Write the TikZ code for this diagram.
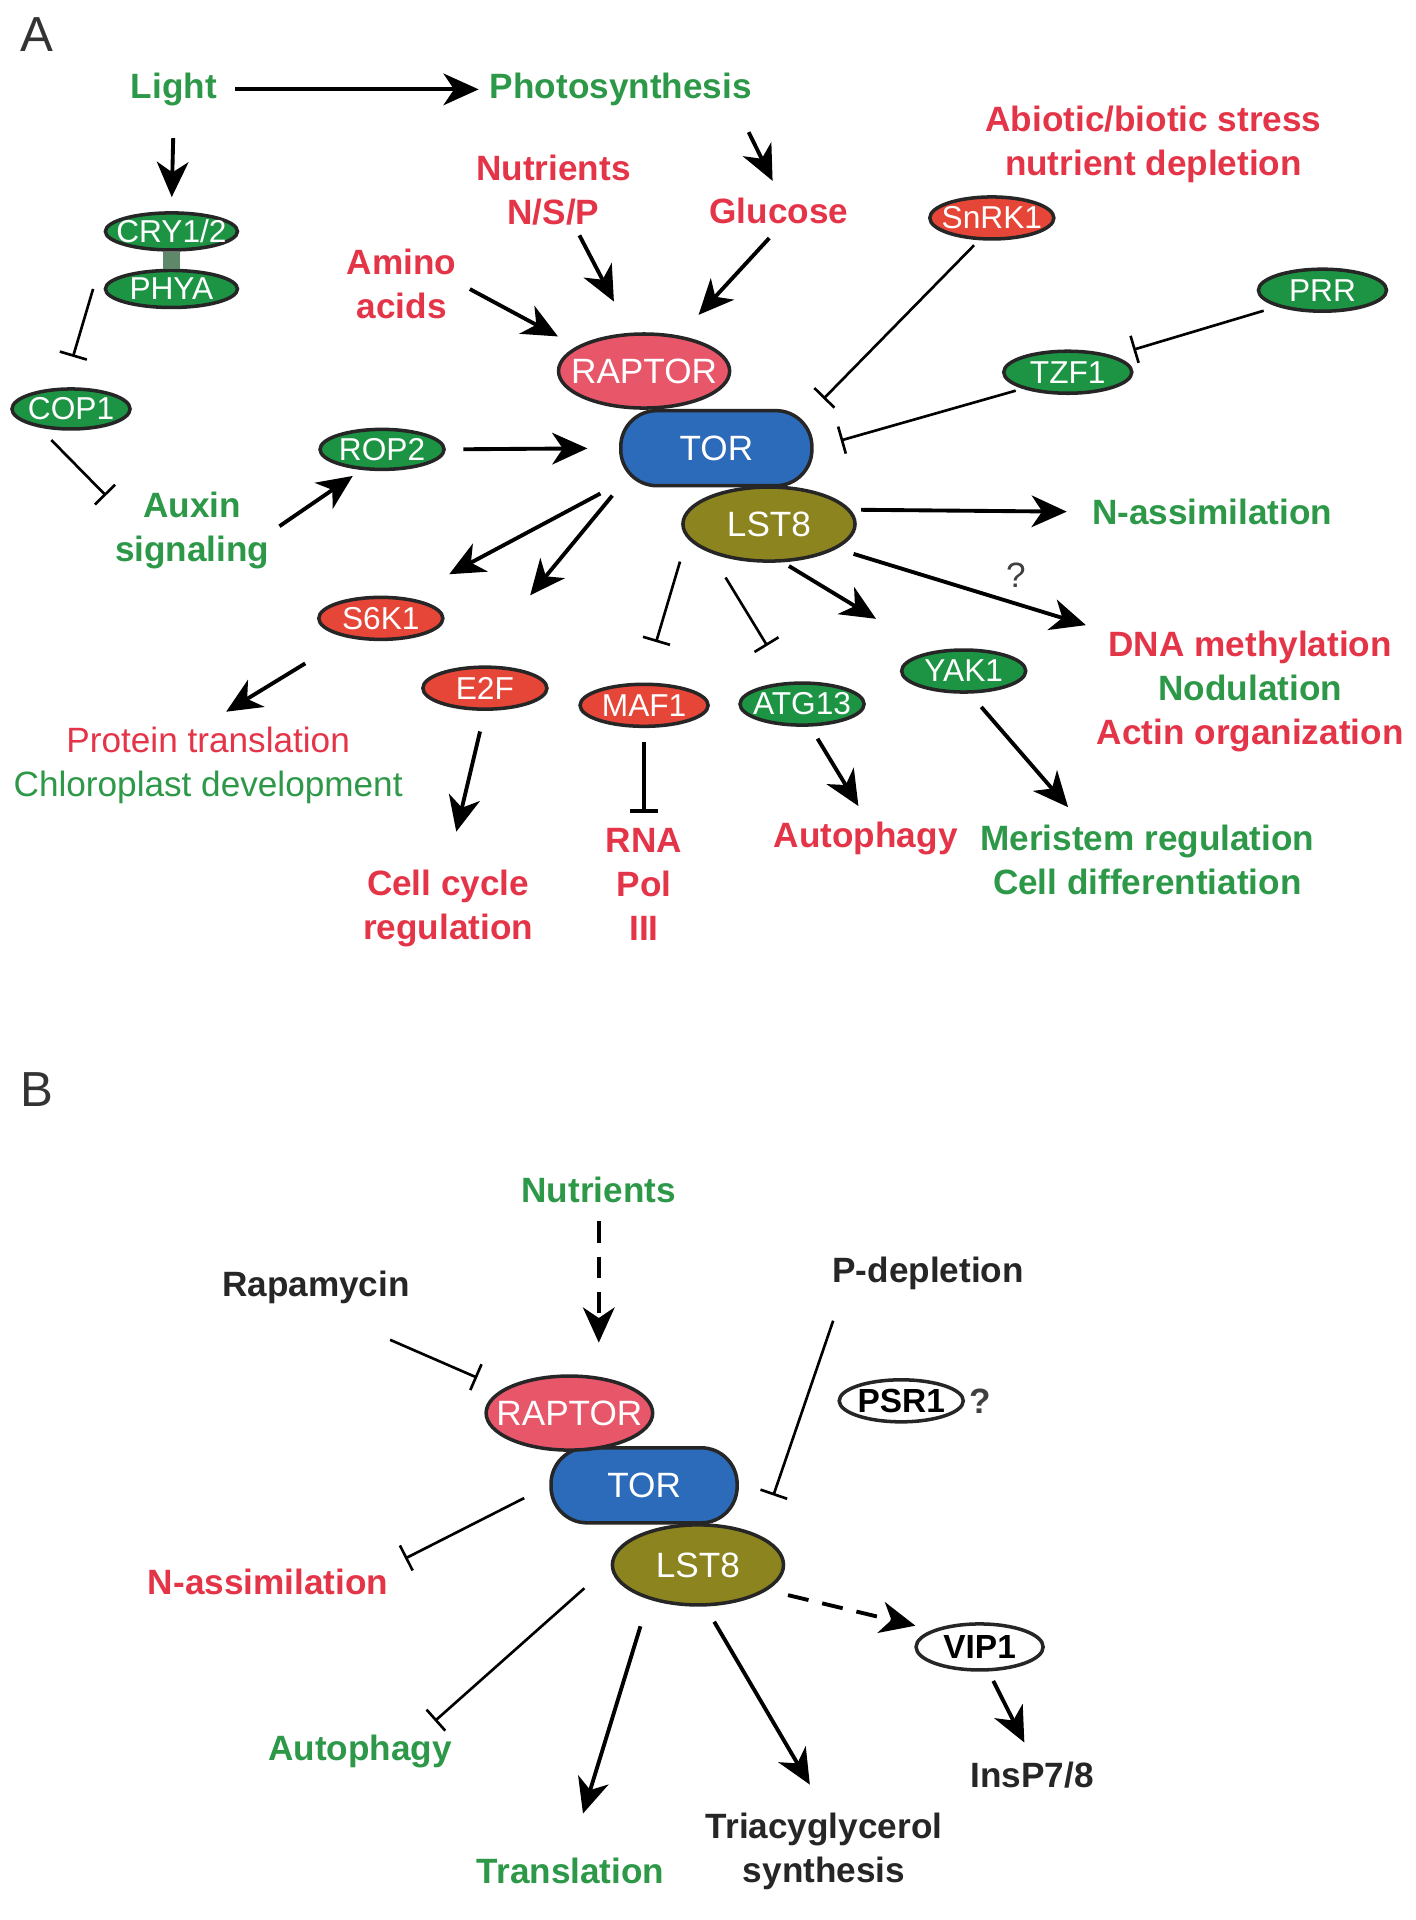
\documentclass[tikz,border=0pt]{standalone}
\usepackage{fontspec}
\setmainfont{Liberation Sans}
\usetikzlibrary{shapes.geometric,arrows.meta}

\definecolor{txtred}{RGB}{228,52,72}
\definecolor{txtgreen}{RGB}{44,152,72}
\definecolor{nodegreen}{RGB}{28,148,68}
\definecolor{nodered}{RGB}{230,70,55}
\definecolor{raptorpink}{RGB}{232,86,106}
\definecolor{torblue}{RGB}{44,106,186}
\definecolor{lstolive}{RGB}{140,132,30}
\definecolor{linkgray}{RGB}{95,135,105}

\begin{document}
\begin{tikzpicture}[x=0.012241cm, y=-0.012241cm,
    lbl/.style={inner sep=1pt, align=center, font=\fontsize{10}{12.5}\selectfont\bfseries},
    gtxt/.style={lbl, text=txtgreen},
    rtxt/.style={lbl, text=txtred},
    ktxt/.style={lbl, text=black!85},
    prot/.style={ellipse, draw=black!85, line width=1pt, inner xsep=-4pt, inner ysep=-2pt, text=white,
        font=\fontsize{9}{11}\selectfont, minimum width=1.24cm, minimum height=0.42cm},
    gprot/.style={prot, fill=nodegreen},
    rprot/.style={prot, fill=nodered},
    wprot/.style={prot, fill=white, text=black, font=\fontsize{9.5}{11}\selectfont\bfseries},
    raptor/.style={prot, fill=raptorpink, font=\fontsize{10}{12}\selectfont,
        minimum width=1.71cm, minimum height=0.74cm},
    torbox/.style={rectangle, rounded corners=0.36cm, draw=black!85, line width=1pt, fill=torblue,
        text=white, font=\fontsize{10}{12}\selectfont, minimum width=1.91cm, minimum height=0.75cm},
    lst/.style={prot, fill=lstolive, font=\fontsize{10}{12}\selectfont,
        minimum width=1.72cm, minimum height=0.74cm},
    act/.style={-{Stealth[length=10pt, width=9pt, inset=3pt]}, line width=1.1pt},
    inh/.style={-{Bar[width=8pt]}, line width=0.75pt},
    qmark/.style={inner sep=1pt, text=black!75, font=\fontsize{10}{12}\selectfont}]

    \useasboundingbox (0,0) rectangle (1156,1568);

    % Panel A
    % Nodes
    \node (lblA) [text=black!80, font=\fontsize{14}{16}\selectfont] at (30,28) {A};
    \node (light) [gtxt] at (142,73) {Light};
    \node (photo) [gtxt] at (507,73) {Photosynthesis};
    \node (cry) [gprot, minimum width=1.32cm, minimum height=0.37cm] at (140,189) {CRY1/2};
    \node (phya) [gprot, minimum width=1.32cm, minimum height=0.37cm] at (140,236) {PHYA};
    \node (cop1) [gprot, minimum width=1.18cm, minimum height=0.4cm] at (58,334) {COP1};
    \node (auxin) [gtxt] at (157,433) {Auxin\\signaling};
    \node (rop2) [gprot, minimum height=0.4cm] at (312,367) {ROP2};
    \node (amino) [rtxt] at (328,232) {Amino\\acids};
    \node (nutri) [rtxt] at (452,155) {Nutrients\\N/S/P};
    \node (gluc) [rtxt] at (636,172) {Glucose};
    \node (stress) [rtxt] at (942,118) {Abiotic/biotic stress\\nutrient depletion};
    \node (snrk) [rprot] at (810,178) {SnRK1};
    \node (prr) [gprot, minimum width=1.28cm] at (1080,237) {PRR};
    \node (tzf) [gprot, minimum width=1.28cm] at (872,304) {TZF1};
    \node (tor) [torbox] at (585,366) {TOR};
    \node (raptor) [raptor] at (526,303) {RAPTOR};
    \node (lst8) [lst] at (628,428) {LST8};
    \node (nassim) [gtxt] at (990,418) {N-assimilation};
    \node (dna) [lbl] at (1021,565)
        {\textcolor{txtred}{DNA methylation}\\\textcolor{txtgreen}{Nodulation}\\\textcolor{txtred}{Actin organization}};
    \node (s6k) [rprot] at (311,505) {S6K1};
    \node (e2f) [rprot] at (396,562) {E2F};
    \node (maf) [rprot, minimum width=1.28cm] at (526,576) {MAF1};
    \node (atg) [gprot] at (655,575) {ATG13};
    \node (yak) [gprot] at (787,548) {YAK1};
    \node (protT) [lbl, font=\fontsize{10}{12.5}\selectfont] at (170,625)
        {\textcolor{txtred}{Protein translation}\\\textcolor{txtgreen}{Chloroplast development}};
    \node (cell) [rtxt] at (366,742) {Cell cycle\\regulation};
    \node (rna) [rtxt] at (526,722) {RNA\\Pol\\III};
    \node (autoA) [rtxt] at (707,685) {Autophagy};
    \node (merist) [gtxt] at (937,702) {Meristem regulation\\Cell differentiation};

    % Edges
    \draw[act, shorten <=4pt, shorten >=2pt] (light.east) -- (photo.west);
    \draw[act, shorten <=8pt, shorten >=4pt] (light.south) -- (cry.north);
    \draw[line width=5pt, linkgray] (cry) -- (phya);
    \draw[inh, shorten >=9pt] ([xshift=-3pt]phya.west) -- ([xshift=-2pt]cop1.north);
    \draw[inh, shorten <=5pt, shorten >=2pt] (cop1.-150) -- (auxin.160);
    \draw[act, shorten <=2pt, shorten >=3pt] (auxin.east) -- (rop2.-135);
    \draw[act, shorten <=5pt, shorten >=9pt] (rop2.east) -- (tor.west);
    \draw[act, shorten <=3pt, shorten >=6pt] (amino.east) -- (raptor.160);
    \draw[act, shorten <=2pt, shorten >=10pt] (nutri.-60) -- (raptor.110);
    \draw[act, shorten <=7pt, shorten >=4pt] (photo.-10) -- (gluc.north);
    \draw[act, shorten <=4pt, shorten >=8pt] (gluc.south) -- (raptor.45);
    \draw[inh, shorten <=2pt, shorten >=4pt] (snrk.-120) -- (tor.north east);
    \draw[inh, shorten <=4pt, shorten >=6pt] (prr.200) -- (tzf.20);
    \draw[inh, shorten <=2pt, shorten >=8pt] (tzf.200) -- (tor.east);
    \draw[act, shorten <=3pt, shorten >=6pt] (lst8.10) -- (nassim.west);
    \draw[act, shorten <=5pt, shorten >=2pt] (lst8.-20) -- node[qmark, pos=0.7, above=3pt] {?} (dna.north west);
    \draw[act, shorten <=6pt, shorten >=14pt] (tor.200) -- (s6k.40);
    \draw[act, shorten <=3pt, shorten >=26pt] (tor.south west) -- (e2f.120);
    \draw[inh, shorten <=22pt, shorten >=12pt] (tor.250) -- (maf.north);
    \draw[-{Bar[width=8pt]}, line width=1.3pt, shorten <=4pt, shorten >=3pt] (maf.south) -- (rna.north);
    \draw[act, shorten <=6pt, shorten >=10pt] (e2f.south) -- (cell.north);
    \draw[act, shorten <=14pt, shorten >=6pt] (s6k.210) -- (protT.north);
    \draw[inh, shorten <=30pt, shorten >=12pt] ([xshift=-13pt]tor.south) -- (atg.120);
    \draw[act, shorten <=2pt, shorten >=18pt] (lst8.-70) -- (yak.150);
    \draw[act, shorten <=4pt, shorten >=4pt] (atg.-70) -- (autoA.north);
    \draw[act, shorten <=5pt, shorten >=5pt] (yak.-75) -- (merist.150);

    % Panel B
    % Nodes
    \node (lblB) [text=black!80, font=\fontsize{14}{16}\selectfont] at (30,890) {B};
    \node (nutB) [gtxt] at (489,972) {Nutrients};
    \node (rapa) [ktxt] at (258,1051) {Rapamycin};
    \node (pdep) [ktxt] at (758,1040) {P-depletion};
    \node (torB) [torbox, minimum width=1.86cm] at (526,1213) {TOR};
    \node (raptorB) [raptor, minimum width=1.59cm] at (465,1154) {RAPTOR};
    \node (lstB) [lst, minimum width=1.71cm, minimum height=0.8cm] at (570,1278) {LST8};
    \node (psr) [wprot, label={[qmark, font=\fontsize{10}{12}\selectfont\bfseries]east:?}] at (736,1144) {PSR1};
    \node (nassB) [rtxt] at (219,1292) {N-assimilation};
    \node (autoB) [gtxt] at (294,1430) {Autophagy};
    \node (transl) [gtxt] at (466,1528) {Translation};
    \node (triac) [ktxt] at (673,1512) {Triacyglycerol\\synthesis};
    \node (vip) [wprot, minimum width=1.27cm, minimum height=0.46cm] at (800,1345) {VIP1};
    \node (insp) [ktxt] at (843,1450) {InsP7/8};

    % Edges
    \draw[act, dash pattern=on 6pt off 4pt, shorten <=4pt, shorten >=9pt] (nutB.south) -- (nutB.south |- raptorB.north);
    \draw[inh, shorten <=23pt, shorten >=8pt] (rapa.south) -- (raptorB.160);
    \draw[inh, shorten <=8pt, shorten >=12pt] ([xshift=4pt]pdep.south west) -- (lstB.north east);
    \draw[inh, shorten <=8pt, shorten >=4pt] (torB.west) -- (nassB.north east);
    \draw[inh, shorten <=10pt, shorten >=4pt] (lstB.west) -- ([xshift=-9pt]autoB.north east);
    \draw[act, shorten <=8pt, shorten >=12pt] (lstB.215) -- (transl.north);
    \draw[act, shorten <=5pt, shorten >=8pt] (lstB.-80) -- (triac.north);
    \draw[act, dash pattern=on 6pt off 4pt, shorten <=6pt, shorten >=5pt] (lstB.-20) -- (vip.160);
    \draw[act, shorten <=3pt, shorten >=5pt] (vip.-70) -- (insp.north);

\end{tikzpicture}
\end{document}
